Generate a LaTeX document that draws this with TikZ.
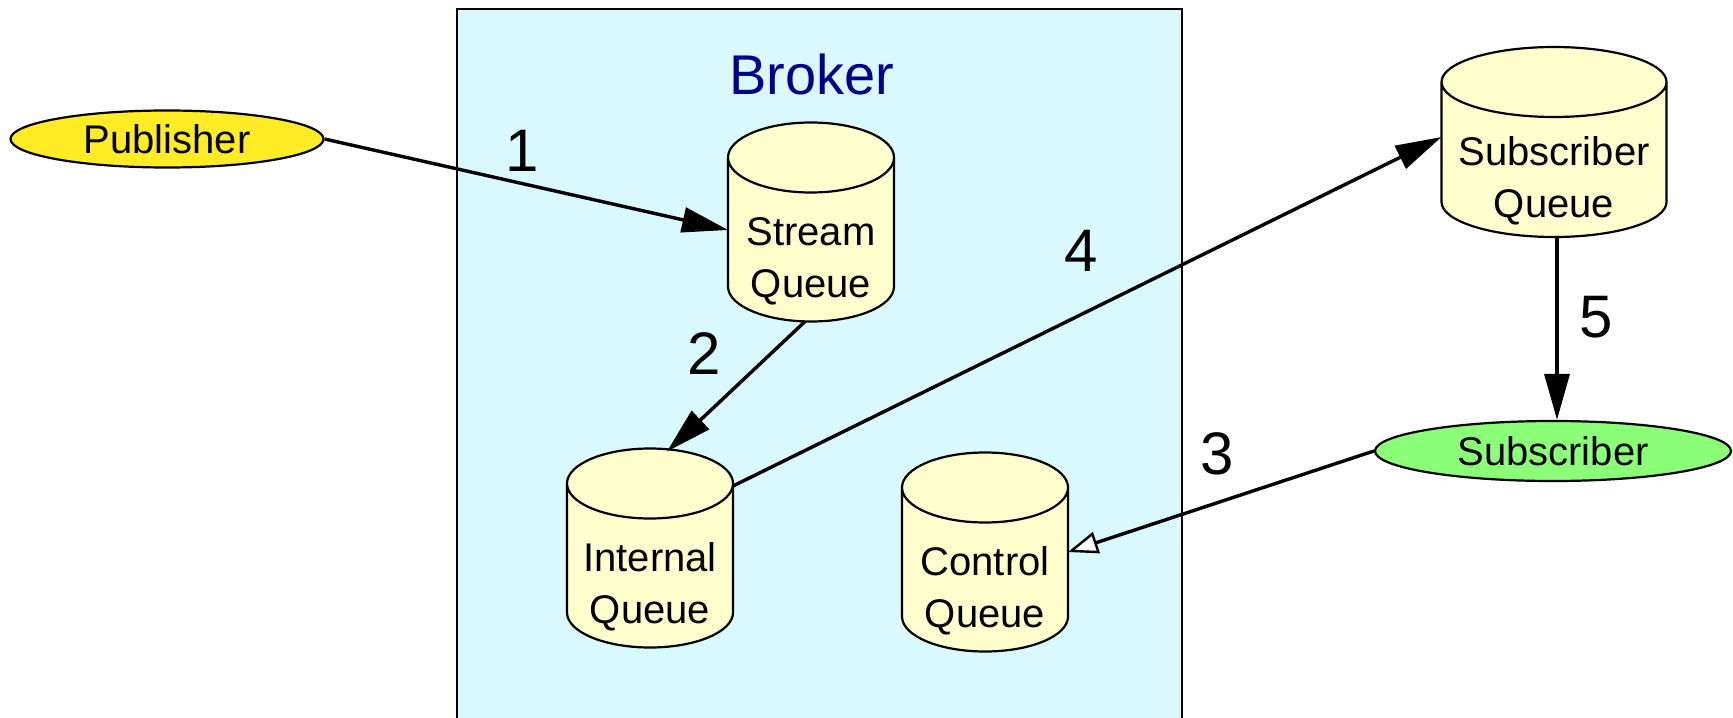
\documentclass[tikz,border=0pt]{standalone}
\usepackage{fontspec}
\setmainfont{Liberation Sans}
\usetikzlibrary{shapes.geometric,arrows.meta,calc}

\definecolor{brokerfill}{RGB}{217,249,255}
\definecolor{brokerblue}{RGB}{0,0,140}
\definecolor{queuefill}{RGB}{255,255,206}
\definecolor{pubyellow}{RGB}{255,236,36}
\definecolor{subgreen}{RGB}{140,255,120}

\def\qlid{17.5pt}
% queue: empty named box, cylinder round it, text under the lid
\newcommand{\queue}[4][]{%
  \node[queue box,#1] (#2) at (#3) {};
  \begin{scope}[shift={(#2.center)}]
    \filldraw[queue line] let \p1=($(#2.north east)-(#2.center)$) in
      (-\x1,\y1-\qlid) -- (-\x1,-\y1+\qlid)
      arc[start angle=180,end angle=360,x radius=\x1,y radius=\qlid]
      -- (\x1,\y1-\qlid)
      arc[start angle=0,end angle=180,x radius=\x1,y radius=\qlid] -- cycle
      (-\x1,\y1-\qlid) arc[start angle=180,end angle=360,x radius=\x1,y radius=\qlid];
  \end{scope}
  \node[queue text] (#2-label) at ([yshift=-19.5pt]#2.center) {#4};
}

\begin{document}
\begin{tikzpicture}[x=0.5pt,y=-0.5pt]
  \tikzset{queue box/.style={rectangle,inner sep=0pt,outer sep=0pt,minimum width=83pt,minimum height=99.5pt}}
  \tikzset{queue line/.style={draw=black,fill=queuefill,line width=1.1pt}}
  \tikzset{queue text/.style={align=center,inner sep=0pt,font=\fontsize{20}{26}\selectfont}}
  \tikzset{actor/.style={ellipse,draw=black,line width=1.1pt,inner sep=0pt,font=\fontsize{20}{25}\selectfont}}
  \tikzset{broker box/.style={rectangle,draw=black,fill=brokerfill,line width=0.9pt,anchor=north west,minimum width=362.5pt,minimum height=361pt}}
  \tikzset{flow/.style={line width=1.7pt,-{Triangle[length=23pt,width=12.5pt]}}}
  \tikzset{ctrl/.style={line width=1.7pt,-{Triangle[fill=white,length=15pt,width=11pt,line width=1.2pt]}}}
  \tikzset{num/.style={inner sep=0pt,font=\fontsize{30}{30}\selectfont}}
  \useasboundingbox (0,0) rectangle (1733,717);

  \node[broker box] (broker) at (456,8) {};
  \node[inner sep=0pt,text=brokerblue,font=\fontsize{28}{28}\selectfont] (brokername) at (812,74) {Broker};

  \queue{sq}{811,222}{Stream\\Queue}
  \queue{iq}{650,548}{Internal\\Queue}
  \queue{cq}{985,552}{Control\\Queue}
  \queue[minimum width=112.5pt,minimum height=95pt]{subq}{1554,142}{Subscriber\\Queue}

  \node[actor,fill=pubyellow,minimum width=156.5pt,minimum height=28.5pt] (pub) at (167,139) {Publisher};
  \node[actor,fill=subgreen,minimum width=178pt,minimum height=30pt] (sub) at (1553,451) {Subscriber};

  % numbered message flow
  \draw[flow] (pub.east) -- ([yshift=-4pt]sq.west);
  \draw[flow] ([xshift=-3pt]sq.south) -- ([xshift=8.5pt,yshift=-1.5pt]iq.north);
  \draw[ctrl] (sub.west) -- (cq.east);
  \draw[flow] ([yshift=31pt]iq.east) -- ([yshift=2.5pt]subq.west);
  \draw[flow] ([xshift=1.5pt]subq.south) -- ([xshift=2pt]sub.north);

  \node[num] (n1) at (522,151) {1};
  \node[num] (n2) at (704,354) {2};
  \node[num] (n3) at (1217,454) {3};
  \node[num] (n4) at (1081,251) {4};
  \node[num] (n5) at (1596,317) {5};
\end{tikzpicture}
\end{document}
